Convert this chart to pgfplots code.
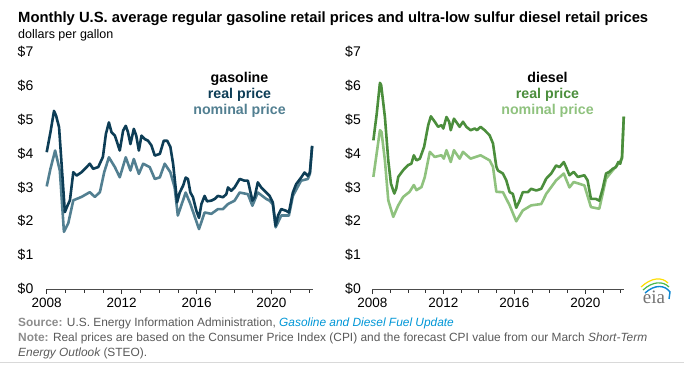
\documentclass[border=0pt]{standalone}
\usepackage{pgfplots}
\pgfplotsset{compat=1.18}
\usepackage{fontspec}
\setmainfont{Liberation Sans}
\newfontfamily\seriffont{Liberation Serif}
\definecolor{gasreal}{HTML}{0D3D56}
\definecolor{gasnom}{HTML}{527F91}
\definecolor{dslreal}{HTML}{4B8E3C}
\definecolor{dslnom}{HTML}{8FC27E}
\definecolor{gridc}{HTML}{D9D9D9}
\definecolor{srcgray}{HTML}{8C8C8C}
\definecolor{txtgray}{HTML}{595959}
\definecolor{linkblue}{HTML}{0096D6}
\pgfplotsset{
  panel/.style={
    scale only axis, height=237pt, ymin=0, ymax=7, xmin=2008, xmax=2022.2,
    axis x line*=bottom, axis y line=none,
    ytick={0,1,...,7},
    ymajorgrids, grid style={gridc, line width=0.8pt},
    xtick={2008,2012,2016,2020},
    minor xtick={2009,2010,2011,2013,2014,2015,2017,2018,2019,2021,2022},
    tick align=outside, major tick length=5pt, minor tick length=3.5pt,
    tick style={black!80, line width=0.6pt},
    x axis line style={black!70, line width=0.8pt, -},
    xticklabel style={font=\fontsize{13.5}{13.5}\selectfont, yshift=-1pt},
    /pgf/number format/assume math mode=true,
    xticklabel={\pgfmathprintnumber[1000 sep={}]{\tick}},
    clip=false,
  }
}
\begin{document}
\begin{tikzpicture}[x=1pt,y=1pt]
\path[use as bounding box] (0,0) rectangle (684,369);
% titles
\node[anchor=base west, inner sep=0] at (18,346.3) {\fontsize{14.8}{16}\selectfont\bfseries Monthly U.S. average regular gasoline retail prices and ultra-low sulfur diesel retail prices};
\node[anchor=base west, inner sep=0] at (18,330) {\fontsize{12.5}{13}\selectfont dollars per gallon};
% y tick labels
\foreach \v in {0,...,7}{
  \node[anchor=east, inner sep=0] at (33.5,80+\v*33.86) {\fontsize{14}{14}\selectfont\$\v};
  \node[anchor=east, inner sep=0] at (361,80+\v*33.86) {\fontsize{14}{14}\selectfont\$\v};
}
\begin{axis}[panel, width=266pt, at={(46.7pt,80pt)}, anchor=south west]
\addplot[gasnom, line width=2.6pt, line join=round] coordinates {
(2008.0,3.03)(2008.2,3.55)(2008.45,4.09)(2008.7,3.5)(2008.92,1.69)(2009.15,1.94)
(2009.42,2.62)(2009.86,2.72)(2010.3,2.86)(2010.57,2.72)(2010.84,2.86)(2011.07,3.45)
(2011.32,3.89)(2011.64,3.6)(2011.9,3.3)(2012.22,3.89)(2012.47,3.5)(2012.65,3.84)
(2012.92,3.4)(2013.15,3.7)(2013.5,3.6)(2013.77,3.25)(2014.04,3.3)(2014.3,3.7)
(2014.6,3.45)(2014.83,3.0)(2015.0,2.17)(2015.42,2.85)(2015.67,2.51)(2016.13,1.77)
(2016.43,2.26)(2016.79,2.22)(2017.14,2.36)(2017.41,2.36)(2017.68,2.51)(2018.03,2.61)
(2018.3,2.85)(2018.74,2.8)(2018.98,2.46)(2019.27,2.85)(2019.72,2.66)(2019.9,2.61)
(2020.07,2.5)(2020.22,1.82)(2020.52,2.17)(2020.93,2.17)(2021.14,2.75)(2021.58,3.2)
(2021.94,3.25)(2022.05,3.4)(2022.17,4.22)
};
\addplot[gasreal, line width=2.6pt, line join=round] coordinates {
(2008.0,4.04)(2008.2,4.63)(2008.39,5.26)(2008.5,5.12)(2008.66,4.78)(2008.97,2.27)
(2009.1,2.45)(2009.24,2.62)(2009.42,3.45)(2009.6,3.35)(2009.86,3.45)(2010.13,3.6)
(2010.3,3.7)(2010.48,3.55)(2010.75,3.6)(2011.0,3.9)(2011.16,4.58)(2011.32,4.92)
(2011.46,4.63)(2011.64,4.53)(2011.9,4.09)(2012.08,4.68)(2012.22,4.82)(2012.34,4.63)
(2012.47,4.28)(2012.65,4.73)(2012.78,4.53)(2012.92,4.09)(2013.06,4.53)(2013.23,4.43)
(2013.41,4.38)(2013.59,4.24)(2013.77,3.94)(2014.04,3.99)(2014.25,4.38)(2014.43,4.38)
(2014.6,4.2)(2014.75,3.69)(2014.89,2.95)(2014.96,2.56)(2015.1,2.85)(2015.28,3.05)
(2015.42,3.29)(2015.54,3.25)(2015.67,2.85)(2015.81,2.71)(2015.99,2.31)(2016.13,2.1)
(2016.26,2.51)(2016.43,2.75)(2016.56,2.59)(2016.79,2.61)(2016.97,2.66)(2017.14,2.75)
(2017.41,2.71)(2017.59,2.8)(2017.68,3.0)(2017.85,2.9)(2018.03,3.0)(2018.3,3.25)
(2018.56,3.2)(2018.74,3.2)(2018.98,2.61)(2019.1,2.71)(2019.27,3.15)(2019.45,3.0)
(2019.72,2.85)(2019.9,2.75)(2020.07,2.56)(2020.22,1.87)(2020.35,2.17)(2020.52,2.36)
(2020.78,2.31)(2020.93,2.26)(2021.14,2.85)(2021.32,3.1)(2021.58,3.29)(2021.76,3.44)
(2021.94,3.34)(2022.05,3.44)(2022.17,4.23)
};
\end{axis}
\begin{axis}[panel, width=252pt, at={(372.3pt,80pt)}, anchor=south west]
\addplot[dslnom, line width=2.6pt, line join=round] coordinates {
(2008.06,3.31)(2008.43,4.69)(2008.52,4.64)(2008.71,3.8)(2008.9,2.62)(2009.18,2.13)
(2009.46,2.47)(2009.74,2.72)(2010.1,2.87)(2010.34,3.07)(2010.49,2.92)(2010.77,3.01)
(2010.96,3.31)(2011.24,4.05)(2011.52,3.9)(2011.9,3.95)(2012.03,3.85)(2012.18,4.1)
(2012.42,3.75)(2012.6,4.1)(2012.92,3.85)(2013.11,4.05)(2013.54,3.85)(2014.1,3.95)
(2014.61,3.8)(2014.8,3.61)(2014.99,2.87)(2015.36,2.86)(2015.74,2.47)(2016.11,2.0)
(2016.48,2.32)(2016.95,2.47)(2017.52,2.51)(2017.8,2.81)(2018.36,3.21)(2018.79,3.41)
(2019.11,3.0)(2019.35,3.16)(2019.95,3.06)(2020.32,2.42)(2020.79,2.37)(2021.17,3.26)
(2021.54,3.5)(2021.86,3.7)(2022.07,3.85)(2022.17,5.09)
};
\addplot[dslreal, line width=2.6pt, line join=round] coordinates {
(2008.06,4.39)(2008.25,5.18)(2008.43,6.09)(2008.5,6.02)(2008.71,5.08)(2008.9,3.8)
(2009.05,3.11)(2009.24,2.82)(2009.35,2.97)(2009.46,3.31)(2009.74,3.51)(2010.02,3.66)
(2010.2,3.7)(2010.34,3.95)(2010.49,3.8)(2010.68,3.85)(2010.92,4.2)(2011.15,4.84)
(2011.3,5.1)(2011.52,4.94)(2011.71,4.79)(2011.9,4.84)(2012.0,4.74)(2012.18,5.08)
(2012.33,4.94)(2012.42,4.69)(2012.6,5.03)(2012.79,4.89)(2012.92,4.79)(2013.11,4.94)
(2013.3,4.79)(2013.54,4.69)(2013.77,4.74)(2013.9,4.69)(2014.1,4.79)(2014.33,4.69)
(2014.61,4.54)(2014.8,4.3)(2014.99,3.61)(2015.08,3.5)(2015.36,3.41)(2015.55,3.21)
(2015.74,2.86)(2015.92,2.81)(2016.11,2.4)(2016.3,2.61)(2016.48,2.86)(2016.76,2.86)
(2016.95,2.96)(2017.24,2.91)(2017.52,2.96)(2017.8,3.26)(2018.08,3.41)(2018.36,3.65)
(2018.55,3.6)(2018.79,3.75)(2018.92,3.6)(2019.11,3.36)(2019.35,3.46)(2019.58,3.31)
(2019.95,3.36)(2020.13,3.21)(2020.32,2.66)(2020.6,2.66)(2020.79,2.61)(2020.98,2.96)
(2021.17,3.41)(2021.36,3.46)(2021.54,3.55)(2021.73,3.6)(2021.86,3.75)(2021.97,3.7)
(2022.07,3.9)(2022.17,5.09)
};
\end{axis}
% legend-like labels
\begin{scope}[every node/.style={inner sep=0, font=\fontsize{14.2}{15}\selectfont\bfseries}]
\node[anchor=base] at (239.5,286.5) {gasoline};
\node[anchor=base, text=gasreal] at (239.5,270.3) {real price};
\node[anchor=base, text=gasnom] at (239.5,254) {nominal price};
\node[anchor=base] at (547.5,286.5) {diesel};
\node[anchor=base, text=dslreal] at (547.5,270.3) {real price};
\node[anchor=base, text=dslnom] at (547.5,254) {nominal price};
\end{scope}
% eia logo
\node[anchor=base, inner sep=0, text=black!55] at (654,66) {\seriffont\fontsize{19}{19}\selectfont eia};
\draw[yellow!80!orange, line width=1.2pt] (641,82) .. controls (652,92) and (662,92) .. (668,86);
\draw[green!60!black!70, line width=1.2pt] (643,79) .. controls (653,88) and (663,88) .. (669,82);
\draw[cyan!70!blue, line width=1.4pt] (645,76) .. controls (655,85) and (665,84) .. (670,77) -- (669,70);
% source & notes
\node[anchor=base west, inner sep=0] at (18,43) {\fontsize{11.9}{12}\selectfont\textcolor{srcgray}{\bfseries Source:} \textcolor{txtgray}{U.S. Energy Information Administration,} \textcolor{linkblue}{\itshape Gasoline and Diesel Fuel Update}};
\node[anchor=base west, inner sep=0] at (18,28) {\fontsize{11.9}{12}\selectfont\textcolor{srcgray}{\bfseries Note:} \textcolor{txtgray}{Real prices are based on the Consumer Price Index (CPI) and the forecast CPI value from our March \itshape Short-Term}};
\node[anchor=base west, inner sep=0] at (18,13) {\fontsize{11.9}{12}\selectfont\textcolor{txtgray}{\itshape Energy Outlook\upshape\ (STEO).}};
\draw[gridc, line width=0.8pt] (0,7) -- (684,7);
\end{tikzpicture}
\end{document}
